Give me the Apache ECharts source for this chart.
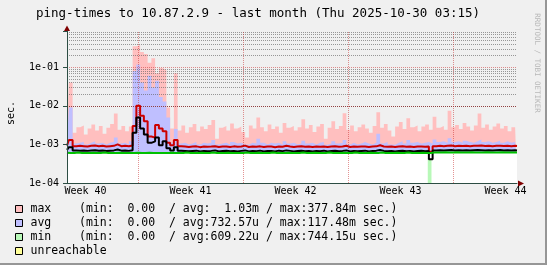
<!DOCTYPE html>
<html>
<head>
<meta charset="utf-8">
<script src="https://cdn.jsdelivr.net/npm/echarts@6/dist/echarts.min.js"></script>
<style>
  html, body { margin: 0; padding: 0; background: #f0f0f0; }
  #chart { width: 547px; height: 265px; }
</style>
</head>
<body>
<div id="chart"></div>
<script>
const mono = 'DejaVu Sans Mono, monospace'

// one sample every 6 h (0.25 day), day 0 = left edge of the graph
const maxVals = [
  2.1e-3, 4.0e-2, 2.0e-3, 2.8e-3, 3.1e-3, 1.8e-3, 2.6e-3, 3.3e-3, 2.3e-3, 3.0e-3,
  1.9e-3, 2.7e-3, 3.4e-3, 6.3e-3, 2.4e-3, 3.0e-3, 2.2e-3, 2.9e-3, 0.35, 0.378,
  0.25, 0.22, 0.13, 0.17, 0.07, 0.095, 0.085, 9.0e-3, 2.6e-3, 0.07,
  2.3e-3, 3.1e-3, 2.0e-3, 2.8e-3, 3.4e-3, 2.2e-3, 2.9e-3, 2.5e-3, 3.2e-3, 4.3e-3,
  1.4e-3, 2.7e-3, 3.0e-3, 2.3e-3, 3.5e-3, 2.6e-3, 2.9e-3, 2.1e-3, 1.5e-3, 3.1e-3,
  2.6e-3, 5.0e-3, 2.8e-3, 2.2e-3, 3.3e-3, 2.5e-3, 2.9e-3, 2.0e-3, 3.6e-3, 2.7e-3,
  3.0e-3, 2.3e-3, 2.8e-3, 4.5e-3, 2.6e-3, 3.2e-3, 2.1e-3, 2.9e-3, 3.4e-3, 1.4e-3,
  2.7e-3, 4.0e-3, 2.5e-3, 3.0e-3, 6.4e-3, 2.4e-3, 3.1e-3, 2.2e-3, 2.8e-3, 3.3e-3,
  2.6e-3, 2.0e-3, 3.0e-3, 6.8e-3, 2.7e-3, 3.4e-3, 2.3e-3, 1.6e-3, 2.9e-3, 3.8e-3,
  2.5e-3, 4.8e-3, 2.8e-3, 3.1e-3, 2.2e-3, 2.9e-3, 3.3e-3, 2.4e-3, 5.2e-3, 2.7e-3,
  3.0e-3, 2.4e-3, 7.5e-3, 2.8e-3, 3.2e-3, 2.5e-3, 3.6e-3, 2.9e-3, 2.3e-3, 3.1e-3,
  6.3e-3, 2.7e-3, 3.3e-3, 2.4e-3, 2.9e-3, 3.5e-3, 2.6e-3, 3.0e-3, 2.2e-3, 2.8e-3,
  2.5e-3
]
const avgVals = [
  1.10e-3, 9.0e-3, 1.05e-3, 1.10e-3, 1.15e-3, 1.00e-3, 1.10e-3, 1.20e-3, 1.05e-3, 1.10e-3,
  1.00e-3, 1.10e-3, 1.15e-3, 1.50e-3, 1.05e-3, 1.10e-3, 1.00e-3, 1.20e-3, 0.08, 0.117,
  0.04, 0.025, 0.06, 0.03, 0.045, 0.017, 0.013, 5.0e-3, 1.10e-3, 2.5e-3,
  1.05e-3, 1.10e-3, 1.00e-3, 1.05e-3, 1.15e-3, 1.00e-3, 1.10e-3, 1.05e-3, 1.10e-3, 1.30e-3,
  1.00e-3, 1.05e-3, 1.10e-3, 1.00e-3, 1.15e-3, 1.05e-3, 1.10e-3, 1.00e-3, 0.98e-3, 1.10e-3,
  1.05e-3, 1.40e-3, 1.10e-3, 1.00e-3, 1.10e-3, 1.05e-3, 1.10e-3, 1.00e-3, 1.20e-3, 1.05e-3,
  1.10e-3, 1.00e-3, 1.05e-3, 1.25e-3, 1.05e-3, 1.10e-3, 1.00e-3, 1.10e-3, 1.15e-3, 0.98e-3,
  1.05e-3, 1.20e-3, 1.05e-3, 1.10e-3, 1.30e-3, 1.00e-3, 1.10e-3, 1.00e-3, 1.05e-3, 1.15e-3,
  1.05e-3, 1.00e-3, 1.10e-3, 1.90e-3, 1.05e-3, 1.15e-3, 1.00e-3, 0.98e-3, 1.10e-3, 1.20e-3,
  1.05e-3, 1.30e-3, 1.10e-3, 1.15e-3, 1.05e-3, 1.10e-3, 1.15e-3, 1.05e-3, 1.35e-3, 1.15e-3,
  1.20e-3, 1.10e-3, 1.45e-3, 1.15e-3, 1.20e-3, 1.10e-3, 1.25e-3, 1.15e-3, 1.10e-3, 1.20e-3,
  1.35e-3, 1.15e-3, 1.20e-3, 1.10e-3, 1.15e-3, 1.25e-3, 1.10e-3, 1.20e-3, 1.10e-3, 1.15e-3,
  1.10e-3
]
const redLine = [
  9.3e-4, 1.3e-3, 9.0e-4, 9.2e-4, 9.0e-4, 8.8e-4, 9.2e-4, 9.4e-4, 9.0e-4, 9.2e-4,
  8.8e-4, 9.0e-4, 9.2e-4, 1.0e-3, 9.0e-4, 9.2e-4, 9.0e-4, 9.4e-4, 3.0e-3, 1.0e-2,
  5.5e-3, 4.0e-3, 1.6e-3, 1.5e-3, 3.2e-3, 2.6e-3, 2.2e-3, 1.1e-3, 9.5e-4, 1.3e-3,
  9.0e-4, 8.8e-4, 8.6e-4, 8.8e-4, 8.9e-4, 8.5e-4, 8.8e-4, 8.7e-4, 8.8e-4, 9.0e-4,
  8.6e-4, 8.8e-4, 8.8e-4, 8.6e-4, 8.9e-4, 8.7e-4, 8.8e-4, 9.3e-4, 8.6e-4, 8.8e-4,
  8.7e-4, 8.9e-4, 8.6e-4, 8.8e-4, 8.8e-4, 8.5e-4, 8.8e-4, 8.7e-4, 9.2e-4, 8.8e-4,
  8.6e-4, 8.8e-4, 8.9e-4, 8.7e-4, 8.8e-4, 8.6e-4, 8.8e-4, 8.7e-4, 8.8e-4, 8.6e-4,
  8.8e-4, 8.9e-4, 8.7e-4, 8.8e-4, 9.2e-4, 8.6e-4, 8.8e-4, 8.7e-4, 8.8e-4, 8.8e-4,
  8.6e-4, 8.8e-4, 8.9e-4, 9.5e-4, 8.8e-4, 8.7e-4, 8.8e-4, 8.6e-4, 8.8e-4, 8.9e-4,
  8.7e-4, 8.8e-4, 8.6e-4, 8.8e-4, 8.8e-4, 8.7e-4, 8.8e-4, 6.5e-4, 9.0e-4, 9.2e-4,
  9.0e-4, 9.2e-4, 9.4e-4, 9.0e-4, 9.2e-4, 9.1e-4, 9.2e-4, 9.0e-4, 9.2e-4, 9.3e-4,
  9.4e-4, 9.1e-4, 9.2e-4, 9.0e-4, 9.2e-4, 9.3e-4, 9.1e-4, 9.2e-4, 9.0e-4, 9.2e-4,
  9.1e-4
]
const blackLine = [
  7.2e-4, 8.5e-4, 7.0e-4, 6.9e-4, 7.0e-4, 6.8e-4, 7.0e-4, 7.1e-4, 6.9e-4, 7.0e-4,
  6.8e-4, 6.9e-4, 7.0e-4, 7.4e-4, 6.9e-4, 7.0e-4, 6.8e-4, 7.1e-4, 2.0e-3, 5.0e-3,
  2.6e-3, 1.8e-3, 1.1e-3, 1.2e-3, 1.5e-3, 9.5e-4, 1.2e-3, 8.0e-4, 7.0e-4, 8.5e-4,
  6.9e-4, 6.8e-4, 6.7e-4, 6.8e-4, 6.9e-4, 6.6e-4, 6.8e-4, 6.7e-4, 6.8e-4, 7.0e-4,
  6.6e-4, 6.8e-4, 6.9e-4, 6.7e-4, 6.8e-4, 6.6e-4, 6.8e-4, 7.0e-4, 6.6e-4, 6.8e-4,
  6.7e-4, 6.9e-4, 6.6e-4, 6.8e-4, 6.8e-4, 6.6e-4, 6.9e-4, 6.7e-4, 7.0e-4, 6.8e-4,
  6.6e-4, 6.8e-4, 6.9e-4, 6.7e-4, 6.8e-4, 6.6e-4, 6.8e-4, 6.7e-4, 6.9e-4, 6.6e-4,
  6.8e-4, 6.9e-4, 6.7e-4, 6.8e-4, 7.0e-4, 6.6e-4, 6.8e-4, 6.7e-4, 6.8e-4, 6.9e-4,
  6.6e-4, 6.8e-4, 6.9e-4, 7.2e-4, 6.8e-4, 6.7e-4, 6.8e-4, 6.6e-4, 6.8e-4, 6.9e-4,
  6.7e-4, 6.8e-4, 6.6e-4, 6.8e-4, 6.9e-4, 6.7e-4, 6.8e-4, 4.1e-4, 7.0e-4, 7.1e-4,
  7.0e-4, 7.1e-4, 7.2e-4, 7.0e-4, 7.1e-4, 7.0e-4, 7.1e-4, 7.0e-4, 7.1e-4, 7.2e-4,
  7.1e-4, 7.0e-4, 7.1e-4, 7.0e-4, 7.1e-4, 7.2e-4, 7.0e-4, 7.1e-4, 7.0e-4, 7.1e-4,
  7.0e-4
]
const greenLine = [
  6.1e-4, 6.0e-4, 6.0e-4, 6.2e-4, 6.0e-4, 6.0e-4, 6.0e-4, 6.1e-4, 6.0e-4, 6.0e-4,
  6.2e-4, 6.0e-4, 6.0e-4, 6.0e-4, 6.1e-4, 6.0e-4, 6.0e-4, 6.0e-4, 6.0e-4, 6.1e-4,
  6.0e-4, 6.0e-4, 6.1e-4, 6.0e-4, 6.0e-4, 6.0e-4, 6.0e-4, 6.0e-4, 6.1e-4, 6.0e-4,
  6.0e-4, 6.0e-4, 6.2e-4, 6.0e-4, 6.0e-4, 6.0e-4, 6.1e-4, 6.0e-4, 6.0e-4, 6.2e-4,
  6.0e-4, 6.0e-4, 6.0e-4, 6.1e-4, 6.0e-4, 6.0e-4, 6.0e-4, 6.0e-4, 6.2e-4, 6.0e-4,
  6.0e-4, 6.1e-4, 6.0e-4, 6.0e-4, 6.0e-4, 6.2e-4, 6.0e-4, 6.0e-4, 6.0e-4, 6.1e-4,
  6.0e-4, 6.0e-4, 6.0e-4, 6.2e-4, 6.0e-4, 6.0e-4, 6.1e-4, 6.0e-4, 6.0e-4, 6.0e-4,
  6.2e-4, 6.0e-4, 6.0e-4, 6.0e-4, 6.1e-4, 6.0e-4, 6.0e-4, 6.2e-4, 6.0e-4, 6.0e-4,
  6.0e-4, 6.1e-4, 6.0e-4, 6.0e-4, 6.2e-4, 6.0e-4, 6.0e-4, 6.0e-4, 6.1e-4, 6.0e-4,
  6.0e-4, 6.2e-4, 6.0e-4, 6.0e-4, 6.0e-4, 6.1e-4, 6.0e-4, 6.0e-4, 6.2e-4, 6.2e-4,
  6.2e-4, 6.3e-4, 6.2e-4, 6.2e-4, 6.3e-4, 6.2e-4, 6.2e-4, 6.2e-4, 6.3e-4, 6.2e-4,
  6.2e-4, 6.2e-4, 6.3e-4, 6.2e-4, 6.2e-4, 6.2e-4, 6.3e-4, 6.2e-4, 6.2e-4, 6.2e-4,
  6.2e-4
]
// the short drop of the minimum in week 43
const dropDays = [24.05, 24.3]
const dropMin = [4.3e-4, 4.3e-4]

const yTicks = [1e-4, 1e-3, 1e-2, 1e-1]
const yTickLabels = ['1e-04', '1e-03', '1e-02', '1e-01']
const yMin = 1e-4
const yMax = 0.87

const weekLabels = ['Week 40', 'Week 41', 'Week 42', 'Week 43', 'Week 44']
const weekLabelDays = [1.233, 8.233, 15.233, 22.233, 29.233]
const weekLineDays = [4.767, 11.767, 18.767, 25.767]

const legendNames = ['max', 'avg', 'min', 'unreachable']
const legendStats = [
  '(min:  0.00  / avg:  1.03m / max:377.84m sec.)',
  '(min:  0.00  / avg:732.57u / max:117.48m sec.)',
  '(min:  0.00  / avg:609.22u / max:744.15u sec.)',
  ''
]
const legendColors = ['#ffbfbf', '#bfbfff', '#b8f8b8', '#ffff99']

const titleText = 'ping-times to 10.87.2.9 - last month (Thu 2025-10-30 03:15)'

const days = maxVals.map((_, i) => i * 0.25)
const pts = vals => vals.map((v, i) => [days[i], v])

const minorGrid = { color: 'rgba(90,90,90,0.6)', width: 1, type: [1, 1] }
const majorGrid = { color: 'rgba(200,40,40,0.5)', width: 1, type: [1, 1] }

// horizontal grid: 2..9 within every decade, decades in red; week starts in red
const gridLines = []
for (let e = -4; e <= -1; e++) {
  for (let m = 1; m <= 9; m++) {
    const v = +(m * Math.pow(10, e)).toPrecision(3)
    if (v <= yMin || v > yMax) continue
    gridLines.push({ yAxis: v, lineStyle: m === 1 ? majorGrid : minorGrid })
  }
}
weekLineDays.forEach(d => gridLines.push({ xAxis: d, lineStyle: majorGrid }))

function area(name, data, color) {
  return {
    name, type: 'line', data, step: 'middle', symbol: 'none', color,
    itemStyle: { color },
    lineStyle: { width: 0 },
    areaStyle: { color, opacity: 1, origin: 'start' },
    silent: true, z: 2
  }
}
function trace(name, vals, color) {
  return {
    name, type: 'line', data: pts(vals), step: 'middle', symbol: 'none', color,
    lineStyle: { width: 2, color },
    silent: true, z: 6
  }
}

const mask = area('floor', pts(greenLine), '#ffffff')
mask.markLine = {
  silent: true, symbol: ['none', 'none'], label: { show: false },
  animation: false, emphasis: { disabled: true }, data: gridLines
}

const chart = echarts.init(document.getElementById('chart'))
const option = {
  backgroundColor: '#f0f0f0',
  animation: false,
  textStyle: { fontFamily: mono },
  grid: { left: 67, right: 30, top: 31, bottom: 82, containLabel: false },
  xAxis: {
    type: 'value', min: 0, max: 30, z: 10,
    axisLine: { onZero: false, lineStyle: { color: '#2c4d43', width: 1 } },
    axisTick: { show: false },
    splitLine: { show: false },
    axisLabel: {
      customValues: weekLabelDays,
      margin: 3,
      fontSize: 10, fontFamily: mono, color: '#000',
      formatter: v => {
        const k = weekLabelDays.findIndex(p => Math.abs(p - v) < 1e-6)
        return k >= 0 ? weekLabels[k] : ''
      }
    }
  },
  yAxis: {
    type: 'log', min: yMin, max: yMax, z: 10,
    axisLine: { show: true, lineStyle: { color: '#2c4d43', width: 1 } },
    axisTick: { show: true, length: 4, lineStyle: { color: '#2c4d43' } },
    splitLine: { show: false },
    minorTick: { show: false },
    axisLabel: {
      margin: 8, fontSize: 10, fontFamily: mono, color: '#000',
      formatter: v => {
        const k = yTicks.findIndex(t => Math.abs(Math.log10(t) - Math.log10(v)) < 1e-6)
        return k >= 0 ? yTickLabels[k] : ''
      }
    }
  },
  legend: {
    orient: 'vertical', left: 15, top: 202, padding: 0, itemGap: 0,
    itemWidth: 7, itemHeight: 7, icon: 'rect', selectedMode: false,
    data: legendNames.map((n, i) => ({
      name: n,
      itemStyle: { color: legendColors[i], borderColor: '#000', borderWidth: 1 }
    })),
    formatter: name => {
      const k = legendNames.indexOf(name)
      return legendStats[k] ? name.padEnd(7) + legendStats[k] : name
    },
    textStyle: { fontFamily: mono, fontSize: 11.5, color: '#000', lineHeight: 14, padding: [0, 0, 0, 3] }
  },
  series: [
    area('max', pts(maxVals), legendColors[0]),
    area('avg', pts(avgVals), legendColors[1]),
    mask,
    area('min', dropDays.map((d, i) => [d, dropMin[i]]), legendColors[2]),
    { name: 'unreachable', type: 'line', data: [], color: legendColors[3], itemStyle: { color: legendColors[3] } },
    trace('maxLine', redLine, '#cc0000'),
    trace('avgLine', blackLine, '#000000'),
    trace('minLine', greenLine, '#00c000')
  ],
  graphic: [
    { type: 'rect', silent: true, shape: { x: 545, y: 0, width: 2, height: 265 }, style: { fill: '#969696' } },
    { type: 'rect', silent: true, shape: { x: 0, y: 263, width: 547, height: 2 }, style: { fill: '#969696' } },
    {
      type: 'text', silent: true, x: 36, y: 13.5,
      style: { text: titleText, font: '12.5px ' + mono, fill: '#000', align: 'left', verticalAlign: 'middle', textAlign: 'left', textVerticalAlign: 'middle' }
    },
    {
      type: 'text', silent: true, x: 11, y: 113, rotation: Math.PI / 2,
      style: { text: 'sec.', font: '10px ' + mono, fill: '#000', align: 'center', verticalAlign: 'middle', textAlign: 'center', textVerticalAlign: 'middle' }
    },
    {
      type: 'text', silent: true, x: 537, y: 63, rotation: -Math.PI / 2,
      style: { text: 'RRDTOOL / TOBI OETIKER', font: '7.5px ' + mono, fill: '#b8b8b8', align: 'center', verticalAlign: 'middle', textAlign: 'center', textVerticalAlign: 'middle' }
    },
    { type: 'polygon', silent: true, shape: { points: [[64, 31], [70, 31], [67, 25.5]] }, style: { fill: '#7f0000' } },
    { type: 'polygon', silent: true, shape: { points: [[518, 180.5], [518, 186.5], [524, 183.5]] }, style: { fill: '#7f0000' } }
  ]
}

chart.setOption(option)
</script>
</body>
</html>
